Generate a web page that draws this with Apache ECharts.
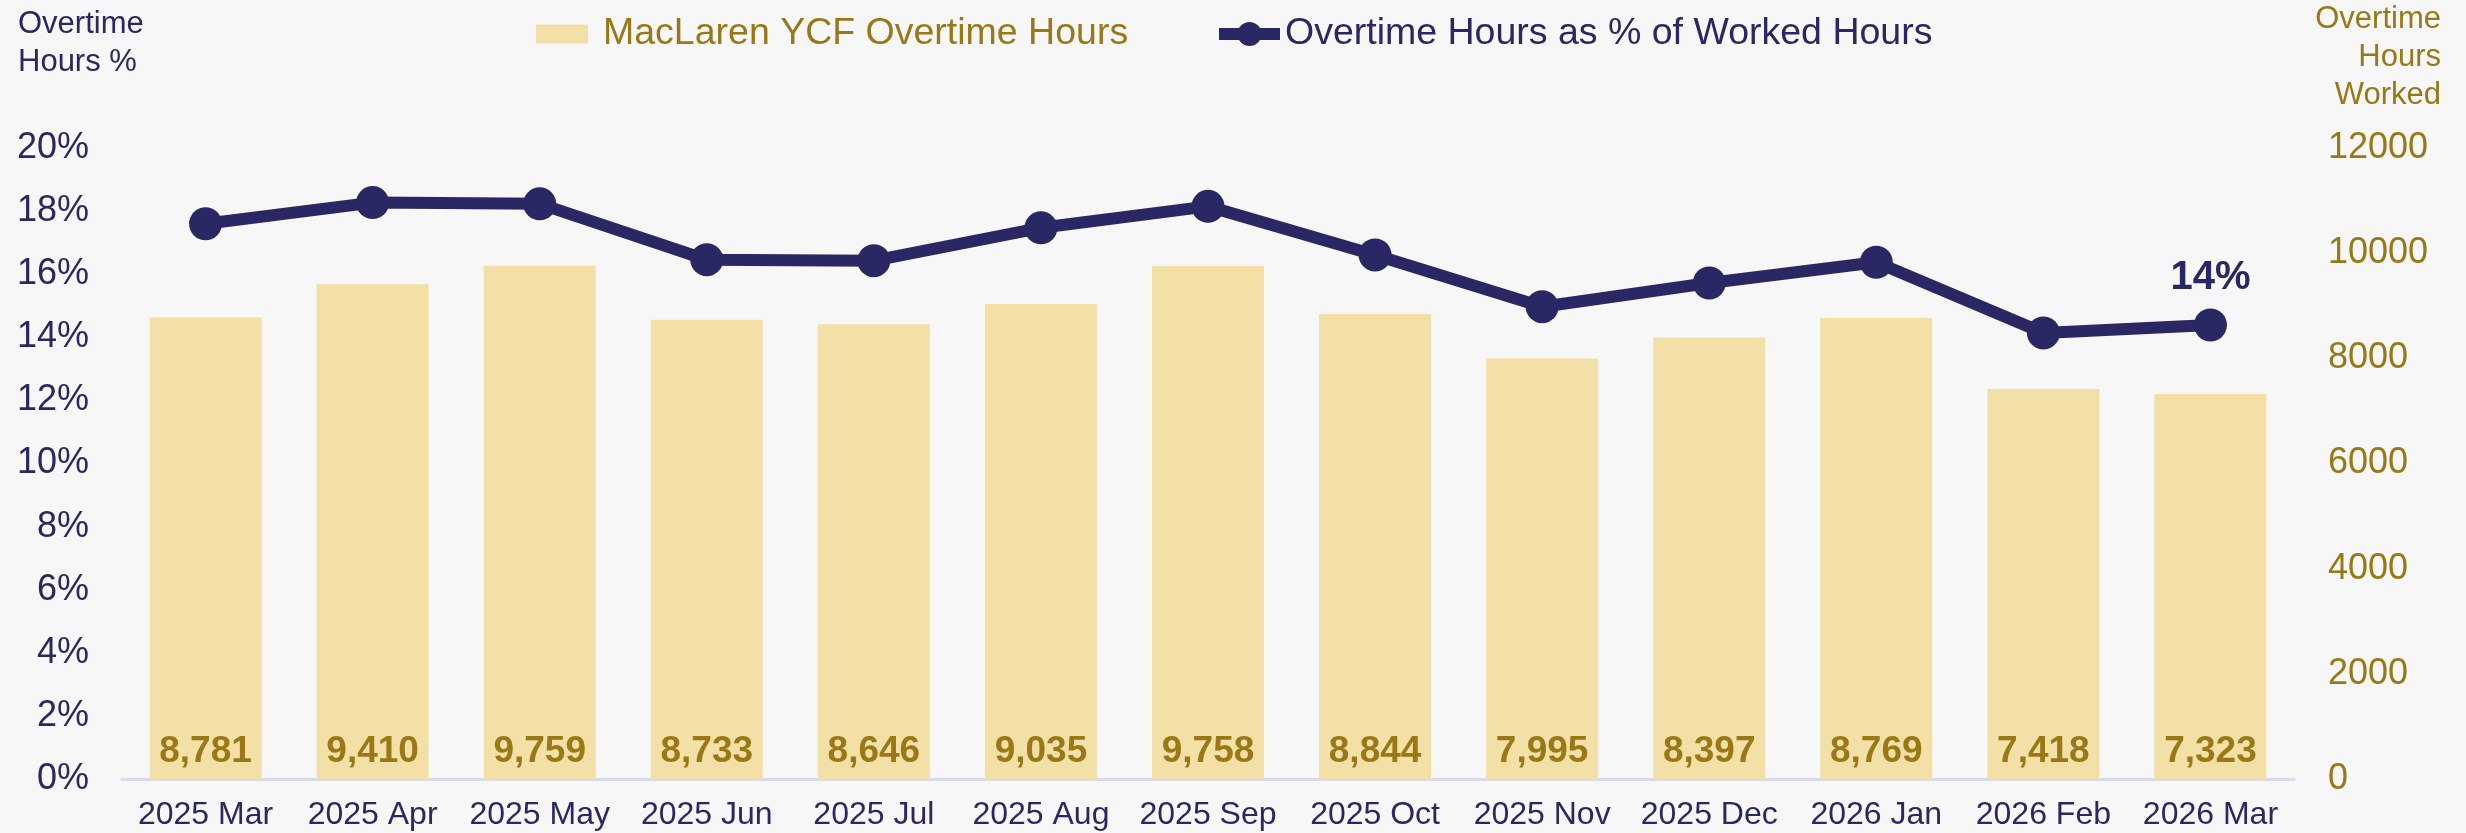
<!DOCTYPE html>
<html>
<head>
<meta charset="utf-8">
<script src="https://cdn.jsdelivr.net/npm/echarts@6/dist/echarts.min.js"></script>
<style>
html,body{margin:0;padding:0;background:#F7F7F7;}
#chart{width:2466px;height:833px;}
</style>
</head>
<body>
<div id="chart"></div>
<script>
const categories = ['2025 Mar','2025 Apr','2025 May','2025 Jun','2025 Jul','2025 Aug','2025 Sep','2025 Oct','2025 Nov','2025 Dec','2026 Jan','2026 Feb','2026 Mar'];
const overtimeHours = [8781, 9410, 9759, 8733, 8646, 9035, 9758, 8844, 7995, 8397, 8769, 7418, 7323];
const overtimePct = [17.60, 18.27, 18.23, 16.46, 16.43, 17.47, 18.15, 16.61, 14.97, 15.72, 16.38, 14.14, 14.39];
const leftTicks = {min: 0, max: 20, interval: 2};
const rightTicks = {min: 0, max: 12000, interval: 2000};

const NAVY = '#2A2864';
const GOLD = '#9B7816';
const BAR = '#F3E0A7';
const FONT = '"Liberation Sans", Arial, sans-serif';

const chart = echarts.init(document.getElementById('chart'));
const lineData = overtimePct.map((v, i) => i === overtimePct.length - 1
  ? {value: v, label: {show: true}} : v);

chart.setOption({
  backgroundColor: '#F7F7F7',
  animation: false,
  textStyle: {fontFamily: FONT},
  grid: {left: 122, right: 172, top: 148, bottom: 54, containLabel: false},
  legend: [
    {
      left: 531, top: 10, itemWidth: 52, itemHeight: 19, itemGap: 14,
      textStyle: {fontSize: 37.5, fontFamily: FONT, color: GOLD, padding: [0, 0, 0, 10]},
      data: [{name: 'MacLaren YCF Overtime Hours', icon: 'rect', itemStyle: {color: BAR}}]
    },
    {
      left: 1208, top: 10, itemWidth: 61, itemHeight: 30, itemGap: 12,
      textStyle: {fontSize: 37.5, fontFamily: FONT, color: NAVY},
      lineStyle: {width: 12, color: NAVY},
      data: [{name: 'Overtime Hours as % of Worked Hours'}]
    }
  ],
  graphic: [
    {type: 'text', x: 18, y: 5, style: {text: 'Overtime\nHours %', fill: NAVY, font: '31px ' + FONT, lineHeight: 38, align: 'left'}},
    {type: 'text', x: 2441, y: 0, style: {text: 'Overtime\nHours\nWorked', fill: GOLD, font: '31px ' + FONT, lineHeight: 38, align: 'right'}}
  ],
  xAxis: {
    type: 'category', data: categories,
    axisLine: {lineStyle: {color: '#DADAEE', width: 3}},
    axisTick: {show: false},
    axisLabel: {color: NAVY, fontSize: 32, margin: 20, interval: 0, fontFamily: FONT}
  },
  yAxis: [
    {type: 'value', min: leftTicks.min, max: leftTicks.max, interval: leftTicks.interval,
     splitLine: {show: false}, axisLine: {show: false}, axisTick: {show: false},
     axisLabel: {color: NAVY, fontSize: 36, margin: 33, formatter: '{value}%', fontFamily: FONT}},
    {type: 'value', min: rightTicks.min, max: rightTicks.max, interval: rightTicks.interval,
     position: 'right', splitLine: {show: false}, axisLine: {show: false}, axisTick: {show: false},
     axisLabel: {color: GOLD, fontSize: 36, margin: 34, fontFamily: FONT, formatter: v => String(v)}}
  ],
  series: [
    {
      name: 'MacLaren YCF Overtime Hours', type: 'bar', yAxisIndex: 1,
      data: overtimeHours, barWidth: 112,
      itemStyle: {color: BAR},
      label: {show: true, position: 'insideBottom', distance: 9, color: GOLD, fontWeight: 'bold', fontSize: 37, fontFamily: FONT,
        formatter: p => p.value.toLocaleString('en-US')}
    },
    {
      name: 'Overtime Hours as % of Worked Hours', type: 'line', yAxisIndex: 0,
      data: lineData, symbol: 'circle', symbolSize: 33,
      lineStyle: {color: NAVY, width: 12}, itemStyle: {color: NAVY},
      label: {show: false, position: 'top', distance: 11, color: NAVY, fontWeight: 'bold', fontSize: 40, fontFamily: FONT,
        formatter: p => Math.round(p.value) + '%'},
      z: 5
    }
  ]
});
</script>
</body>
</html>
